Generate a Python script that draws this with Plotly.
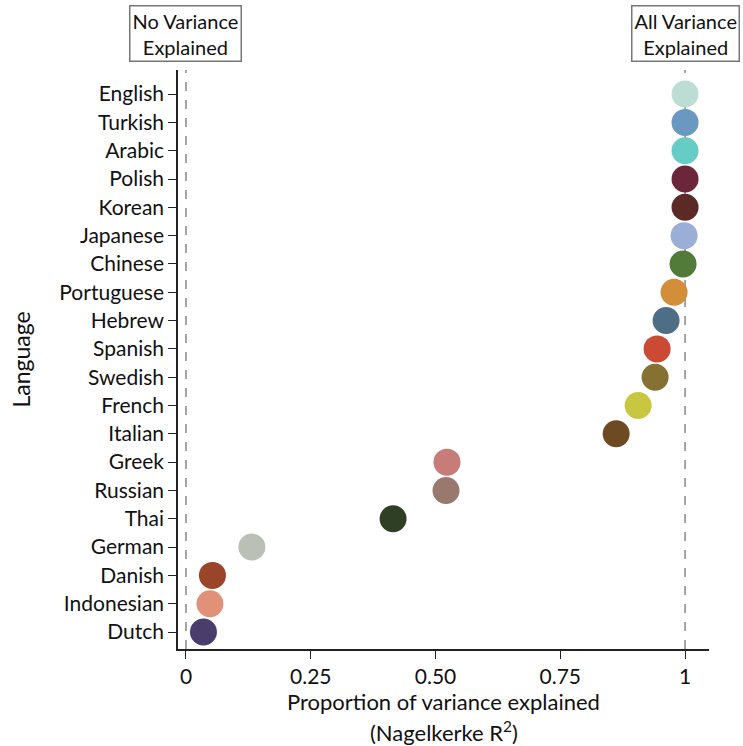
import plotly.graph_objects as go

languages = ["English", "Turkish", "Arabic", "Polish", "Korean", "Japanese", "Chinese",
             "Portuguese", "Hebrew", "Spanish", "Swedish", "French", "Italian", "Greek",
             "Russian", "Thai", "German", "Danish", "Indonesian", "Dutch"]
r2 = [1.0, 1.0, 1.0, 1.0, 1.0, 0.998, 0.996, 0.978, 0.962, 0.944, 0.94, 0.906, 0.862,
      0.523, 0.521, 0.415, 0.132, 0.053, 0.048, 0.035]
colors = ["#BCDDD3", "#6A98C0", "#66CCC6", "#6B2639", "#5C2A26", "#9AAED8", "#527A38",
          "#D28E38", "#4E6E85", "#CB4A33", "#857232", "#C8C840", "#6E4A22", "#C77C77",
          "#99786E", "#2F3F25", "#BBC0B6", "#9A442A", "#E09178", "#4A3D6B"]
x_ticks = [0, 0.25, 0.5, 0.75, 1]
x_tick_labels = ["0", "0.25", "0.50", "0.75", "1"]

n = len(languages)
ypos = [n - 1 - i for i in range(n)]

FONT = "Lato"
fig = go.Figure()
for xv in [0, 1]:
    fig.add_shape(type="line", x0=xv, x1=xv, y0=-0.6, y1=20.2, xref="x", yref="y",
                  line=dict(color="#888888", width=1.5, dash="dash"), layer="below")

fig.add_trace(go.Scatter(
    x=r2, y=ypos, mode="markers",
    marker=dict(size=27, color=colors, line=dict(width=0)),
    showlegend=False, cliponaxis=False, hoverinfo="skip",
))

for xv, txt in [(0, "No Variance<br>Explained"), (1, "All Variance<br>Explained")]:
    fig.add_annotation(x=xv, y=1.0, xref="x", yref="paper", yanchor="bottom", yshift=8,
                       text=txt, showarrow=False, align="center",
                       font=dict(family=FONT, size=20, color="#111111"),
                       bordercolor="#777777", borderwidth=1.5, borderpad=2,
                       bgcolor="white")

# axis titles as annotations for precise placement
fig.add_annotation(x=0.5, y=0, xref="paper", yref="paper", yanchor="top", yshift=-37,
                   text="Proportion of variance explained", showarrow=False,
                   font=dict(family=FONT, size=22, color="#111111"))
fig.add_annotation(x=0.5, y=0, xref="paper", yref="paper", yanchor="top", yshift=-66,
                   text="(Nagelkerke R<sup>2</sup>)", showarrow=False,
                   font=dict(family=FONT, size=22, color="#111111"))
fig.add_annotation(x=0, y=0.5, xref="paper", yref="paper", xanchor="center", xshift=-158,
                   text="Language", textangle=-90, showarrow=False,
                   font=dict(family=FONT, size=23, color="#111111"))

fig.update_layout(
    width=743, height=746,
    margin=dict(l=178, r=34, t=70, b=97),
    paper_bgcolor="white", plot_bgcolor="white",
    font=dict(family=FONT, size=21, color="#111111"),
    xaxis=dict(range=[-0.016, 1.048], tickvals=x_ticks, ticktext=x_tick_labels,
               showgrid=False, zeroline=False, showline=True, linecolor="#222222",
               linewidth=1.5, ticks="outside", ticklen=8, tickcolor="#222222",
               tickfont=dict(size=21), automargin=False),
    yaxis=dict(range=[-0.6, 19.85], tickvals=ypos, ticktext=languages,
               showgrid=False, zeroline=False, showline=True, linecolor="#222222",
               linewidth=1.5, ticks="outside", ticklen=8, tickcolor="#222222",
               tickfont=dict(size=21), automargin=False),
)

fig.write_html("out.html", config={"displayModeBar": False},
               post_script="document.body.style.margin='0';")
